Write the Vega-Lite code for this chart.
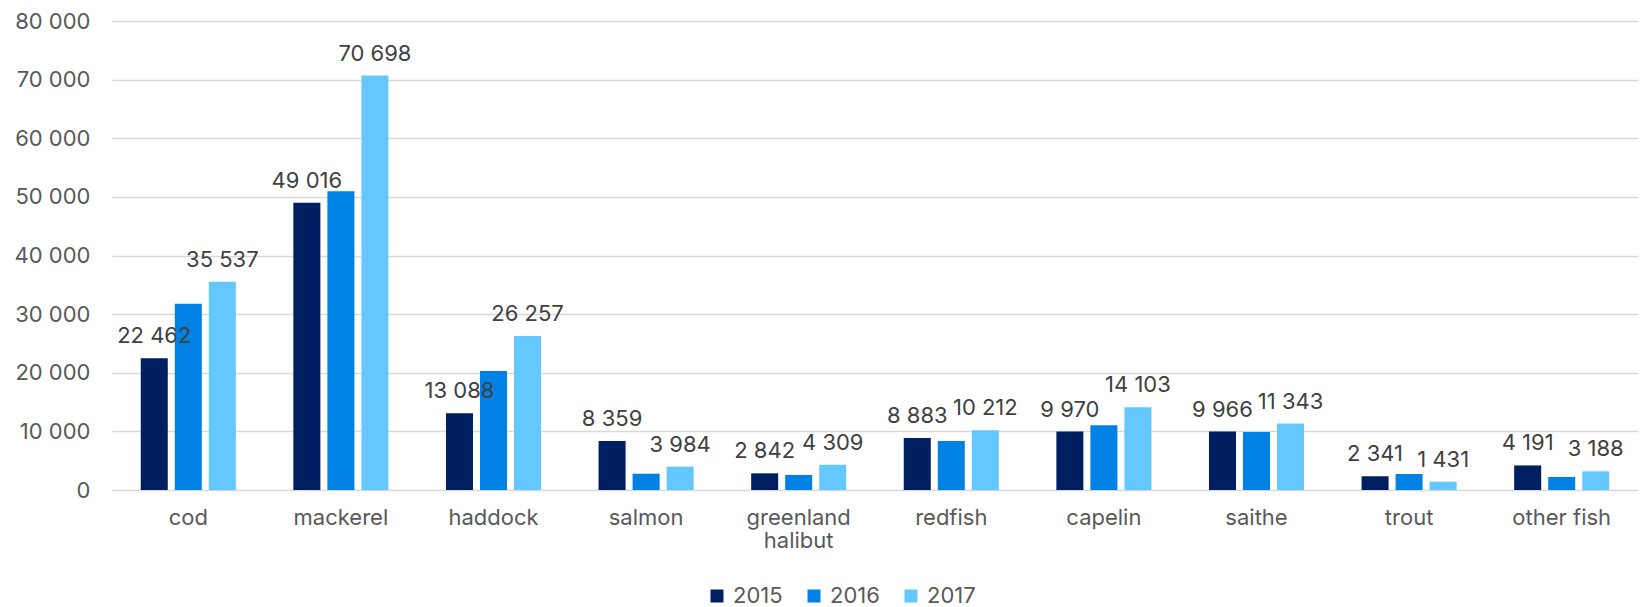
{
  "$schema": "https://vega.github.io/schema/vega-lite/v6.json",
  "width": 1526,
  "height": 469,
  "autosize": {"type": "none"},
  "padding": {"left": 112, "top": 21, "right": 2, "bottom": 117},
  "config": {
    "locale": {"number": {"decimal": ".", "thousands": " ", "grouping": [3], "currency": ["", ""]}},
    "view": {"stroke": null},
    "font": "Inter"
  },
  "data": {
    "values": [
      {"species": "cod", "year": "2015", "value": 22462},
      {"species": "cod", "year": "2016", "value": 31750},
      {"species": "cod", "year": "2017", "value": 35537},
      {"species": "mackerel", "year": "2015", "value": 49016},
      {"species": "mackerel", "year": "2016", "value": 50970},
      {"species": "mackerel", "year": "2017", "value": 70698},
      {"species": "haddock", "year": "2015", "value": 13088},
      {"species": "haddock", "year": "2016", "value": 20300},
      {"species": "haddock", "year": "2017", "value": 26257},
      {"species": "salmon", "year": "2015", "value": 8359},
      {"species": "salmon", "year": "2016", "value": 2780},
      {"species": "salmon", "year": "2017", "value": 3984},
      {"species": "greenland halibut", "year": "2015", "value": 2842},
      {"species": "greenland halibut", "year": "2016", "value": 2560},
      {"species": "greenland halibut", "year": "2017", "value": 4309},
      {"species": "redfish", "year": "2015", "value": 8883},
      {"species": "redfish", "year": "2016", "value": 8360},
      {"species": "redfish", "year": "2017", "value": 10212},
      {"species": "capelin", "year": "2015", "value": 9970},
      {"species": "capelin", "year": "2016", "value": 11040},
      {"species": "capelin", "year": "2017", "value": 14103},
      {"species": "saithe", "year": "2015", "value": 9966},
      {"species": "saithe", "year": "2016", "value": 9900},
      {"species": "saithe", "year": "2017", "value": 11343},
      {"species": "trout", "year": "2015", "value": 2341},
      {"species": "trout", "year": "2016", "value": 2730},
      {"species": "trout", "year": "2017", "value": 1431},
      {"species": "other fish", "year": "2015", "value": 4191},
      {"species": "other fish", "year": "2016", "value": 2220},
      {"species": "other fish", "year": "2017", "value": 3188}
    ]
  },
  "encoding": {
    "x": {
      "field": "species",
      "type": "nominal",
      "sort": ["cod", "mackerel", "haddock", "salmon", "greenland halibut", "redfish", "capelin", "saithe", "trout", "other fish"],
      "scale": {"paddingInner": 0.377, "paddingOuter": 0.1885},
      "axis": {
        "title": null,
        "domain": false,
        "ticks": false,
        "labelAngle": 0,
        "labelFontSize": 22,
        "labelColor": "#595959",
        "labelPadding": 17,
        "labelLineHeight": 23,
        "labelExpr": "datum.label == 'greenland halibut' ? ['greenland', 'halibut'] : datum.label"
      }
    },
    "xOffset": {"field": "year", "type": "nominal", "scale": {"paddingInner": 0.206}},
    "y": {
      "field": "value",
      "type": "quantitative",
      "scale": {"domain": [0, 80000]},
      "axis": {
        "title": null,
        "domain": false,
        "ticks": false,
        "grid": true,
        "gridColor": "#d9d9d9",
        "gridWidth": 1.5,
        "tickCount": 8,
        "format": ",d",
        "labelFontSize": 22,
        "labelColor": "#595959",
        "labelPadding": 22
      }
    }
  },
  "layer": [
    {
      "mark": {"type": "bar"},
      "encoding": {
        "color": {
          "field": "year",
          "type": "nominal",
          "scale": {"domain": ["2015", "2016", "2017"], "range": ["#001F60", "#0082E4", "#64C8FF"]},
          "legend": {
            "title": null,
            "orient": "none",
            "direction": "horizontal",
            "legendX": 594,
            "legendY": 564,
            "padding": 0,
            "symbolType": "square",
            "symbolSize": 169,
            "symbolStrokeWidth": 0,
            "labelFontSize": 22,
            "labelColor": "#595959",
            "labelOffset": 5,
            "columnPadding": 20
          }
        }
      }
    },
    {
      "transform": [{"filter": "datum.year != '2016'"}],
      "mark": {"type": "text", "baseline": "alphabetic", "dy": -15, "fontSize": 22, "color": "#404040"},
      "encoding": {"text": {"field": "value", "type": "quantitative", "format": ",d"}}
    }
  ]
}
